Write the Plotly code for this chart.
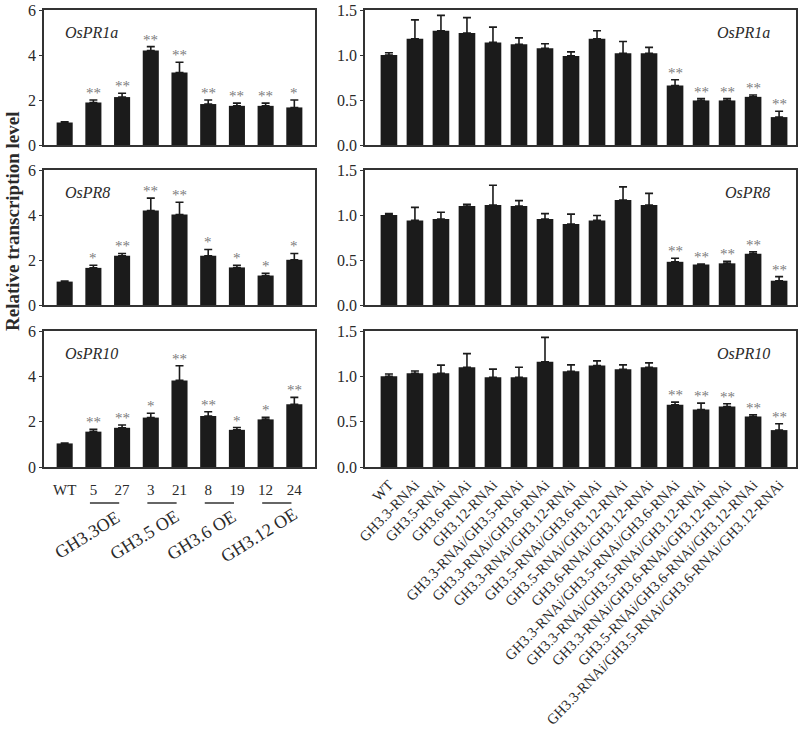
import plotly.graph_objects as go

# ---------------- data ----------------
left_cats = ["WT", "5", "27", "3", "21", "8", "19", "12", "24"]
left_groups = ["GH3.3OE", "GH3.5 OE", "GH3.6 OE", "GH3.12 OE"]

pr1a_oe = [1.0, 1.89, 2.13, 4.2, 3.22, 1.82, 1.74, 1.74, 1.67]
pr1a_oe_err = [0.03, 0.11, 0.17, 0.17, 0.46, 0.18, 0.12, 0.12, 0.33]
pr1a_oe_sig = ["", "**", "**", "**", "**", "**", "**", "**", "*"]

pr8_oe = [1.04, 1.65, 2.19, 4.2, 4.02, 2.19, 1.67, 1.31, 2.01]
pr8_oe_err = [0.02, 0.12, 0.1, 0.55, 0.55, 0.28, 0.1, 0.1, 0.28]
pr8_oe_sig = ["", "*", "**", "**", "**", "*", "*", "*", "*"]

pr10_oe = [1.04, 1.56, 1.73, 2.18, 3.82, 2.25, 1.64, 2.1, 2.77]
pr10_oe_err = [0.02, 0.1, 0.12, 0.19, 0.65, 0.19, 0.1, 0.09, 0.3]
pr10_oe_sig = ["", "**", "**", "*", "**", "**", "*", "*", "**"]

right_cats = [
    "WT", "GH3.3-RNAi", "GH3.5-RNAi", "GH3.6-RNAi", "GH3.12-RNAi",
    "GH3.3-RNAi/GH3.5-RNAi", "GH3.3-RNAi/GH3.6-RNAi", "GH3.3-RNAi/GH3.12-RNAi",
    "GH3.5-RNAi/GH3.6-RNAi", "GH3.5-RNAi/GH3.12-RNAi", "GH3.6-RNAi/GH3.12-RNAi",
    "GH3.3-RNAi/GH3.5-RNAi/GH3.6-RNAi", "GH3.3-RNAi/GH3.5-RNAi/GH3.12-RNAi",
    "GH3.3-RNAi/GH3.6-RNAi/GH3.12-RNAi", "GH3.5-RNAi/GH3.6-RNAi/GH3.12-RNAi",
    "GH3.3-RNAi/GH3.5-RNAi/GH3.6-RNAi/GH3.12-RNAi",
]

pr1a_ri = [1.0, 1.18, 1.27, 1.245, 1.14, 1.12, 1.075, 0.99, 1.18, 1.02, 1.02,
           0.66, 0.495, 0.495, 0.535, 0.31]
pr1a_ri_err = [0.025, 0.21, 0.17, 0.17, 0.17, 0.07, 0.05, 0.045, 0.09, 0.13, 0.065,
               0.065, 0.02, 0.02, 0.02, 0.065]

pr8_ri = [1.0, 0.94, 0.955, 1.1, 1.11, 1.1, 0.955, 0.9, 0.94, 1.167, 1.11,
          0.48, 0.45, 0.463, 0.57, 0.27]
pr8_ri_err = [0.015, 0.145, 0.075, 0.02, 0.22, 0.06, 0.06, 0.11, 0.055, 0.145, 0.13,
              0.04, 0.005, 0.022, 0.02, 0.045]

pr10_ri = [1.0, 1.034, 1.034, 1.1, 0.99, 0.99, 1.16, 1.056, 1.12, 1.078, 1.1,
           0.686, 0.634, 0.667, 0.557, 0.407]
pr10_ri_err = [0.025, 0.025, 0.09, 0.15, 0.09, 0.11, 0.27, 0.07, 0.05, 0.048, 0.048,
               0.03, 0.07, 0.03, 0.02, 0.07]

ri_sig = [""] * 11 + ["**"] * 5

genes = ["OsPR1a", "OsPR8", "OsPR10"]

# ---------------- layout helpers ----------------
W, H = 800, 735
FONT = "Liberation Serif, Times New Roman, Times, serif"
TXT = "#2a2a2a"
BAR = "#1b1b1b"
STAR = "#7c7c7c"


def px_x(p):
    return p / W


def px_y(p):
    return 1 - p / H


rows_px = [(10, 145), (170, 305), (331, 467)]
left_x = [px_x(44), px_x(315)]
right_x = [px_x(365), px_x(796)]

fig = go.Figure()

left_data = [(pr1a_oe, pr1a_oe_err, pr1a_oe_sig),
             (pr8_oe, pr8_oe_err, pr8_oe_sig),
             (pr10_oe, pr10_oe_err, pr10_oe_sig)]
right_data = [(pr1a_ri, pr1a_ri_err, ri_sig),
              (pr8_ri, pr8_ri_err, ri_sig),
              (pr10_ri, pr10_ri_err, ri_sig)]

annotations = []
shapes = []

for r in range(3):
    for side in range(2):
        k = r + 1 + 3 * side
        xa = "x" if k == 1 else f"x{k}"
        ya = "y" if k == 1 else f"y{k}"
        if side == 0:
            vals, errs, sig = left_data[r]
            cats = left_cats
            width = 0.56
        else:
            vals, errs, sig = right_data[r]
            cats = right_cats
            width = 0.64
        idx = list(range(len(cats)))
        fig.add_trace(go.Bar(
            x=idx, y=vals, width=width, marker=dict(color=BAR, line=dict(width=0)),
            error_y=dict(type="data", array=errs, arrayminus=[0] * len(errs),
                         symmetric=False, color=BAR, thickness=1.6, width=4),
            xaxis=xa, yaxis=ya, showlegend=False, hoverinfo="skip"))
        for i, s in enumerate(sig):
            if s:
                annotations.append(dict(
                    x=i, y=vals[i] + errs[i], xref=xa, yref=ya, text=s,
                    showarrow=False, yanchor="bottom", yshift=-3,
                    font=dict(family=FONT, size=15, color=STAR)))
        # gene label
        if side == 0:
            annotations.append(dict(
                x=0.07, y=0.835, xref=f"{xa} domain", yref=f"{ya} domain",
                text=f"<i>{genes[r]}</i>", showarrow=False, xanchor="left",
                yanchor="middle", font=dict(family=FONT, size=16, color=TXT)))
        else:
            annotations.append(dict(
                x=0.945, y=0.835, xref=f"{xa} domain", yref=f"{ya} domain",
                text=f"<i>{genes[r]}</i>", showarrow=False, xanchor="right",
                yanchor="middle", font=dict(family=FONT, size=16, color=TXT)))

        show_x = (r == 2)
        xaxis = dict(
            domain=left_x if side == 0 else right_x,
            anchor=ya, automargin=False,
            range=[-0.72, 8.72] if side == 0 else [-0.92, 15.65],
            showline=True, linecolor="#333333", linewidth=1.5, mirror=True,
            showgrid=False, zeroline=False, ticks="",
            tickmode="array", tickvals=idx,
            ticktext=cats if show_x else [""] * len(cats),
            showticklabels=show_x,
            tickfont=dict(family=FONT, size=15 if side == 0 else 14.5, color=TXT),
            tickangle=0 if side == 0 else -46,
            ticklabelstandoff=8 if side == 0 else 2,
        )
        if side == 0:
            yaxis = dict(range=[0, 6], tickvals=[0, 2, 4, 6])
        else:
            yaxis = dict(range=[0, 1.5], tickvals=[0, 0.5, 1.0, 1.5],
                         ticktext=["0.0", "0.5", "1.0", "1.5"], tickmode="array")
        yaxis.update(dict(
            domain=[px_y(rows_px[r][1]), px_y(rows_px[r][0])], anchor=xa,
            automargin=False,
            showline=True, linecolor="#333333", linewidth=1.5, mirror=True,
            showgrid=False, zeroline=False, ticks="outside", ticklen=3,
            tickcolor="#333333",
            tickfont=dict(family=FONT, size=16, color=TXT)))
        fig.layout[("xaxis" if k == 1 else f"xaxis{k}")] = xaxis
        fig.layout[("yaxis" if k == 1 else f"yaxis{k}")] = yaxis

# group underlines and labels for left bottom panel
pairs = [(1, 2), (3, 4), (5, 6), (7, 8)]
for (a, b), g in zip(pairs, left_groups):
    shapes.append(dict(type="line", xref="x3", yref="paper",
                       x0=a - 0.12, x1=b - 0.1, y0=px_y(503), y1=px_y(503),
                       line=dict(color="#333333", width=1.5)))
    annotations.append(dict(
        x=(a + b) / 2 - 0.72, y=px_y(535), xref="x3", yref="paper",
        text=g, showarrow=False, textangle=-32, xanchor="center", yanchor="middle",
        font=dict(family=FONT, size=18, color=TXT)))

# y axis title
annotations.append(dict(
    x=px_x(13), y=px_y(221), xref="paper", yref="paper",
    xanchor="center", yanchor="middle",
    text="<b>Relative transcription level</b>", showarrow=False, textangle=-90,
    font=dict(family=FONT, size=19, color=TXT)))

fig.update_layout(
    width=W, height=H, margin=dict(l=0, r=0, t=0, b=0, autoexpand=False),
    paper_bgcolor="white", plot_bgcolor="white",
    annotations=annotations, shapes=shapes, bargap=0.3,
    font=dict(family=FONT, color=TXT),
)

fig.write_html("out.html",
               config={"displayModeBar": False},
               post_script="document.body.style.margin='0px';"
                           "document.body.style.overflow='hidden';")
